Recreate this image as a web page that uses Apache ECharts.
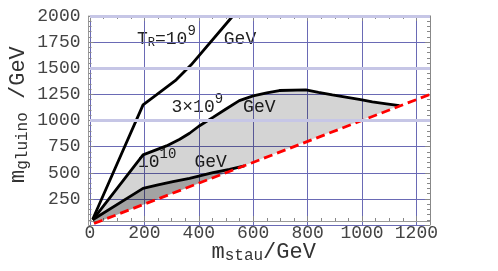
<!DOCTYPE html>
<html>
<head>
<meta charset="utf-8">
<script src="https://cdn.jsdelivr.net/npm/echarts@6/dist/echarts.min.js"></script>
<style>
html,body{margin:0;padding:0;background:#fff;}
#chart{width:498px;height:271px;}
</style>
</head>
<body>
<div id="chart"></div>
<script>
// ---- data (m_stau [GeV], m_gluino [GeV]) ----
const curveTR1e9 = [[10,55],[195,1150],[244,1245],[317,1389],[372,1533],[525,2000]];
const curveTR3e9 = [[10,50],[195,671],[281,757],[330,821],[366,878],[400,945],[452,1030],[500,1110],[549,1190],[600,1235],[650,1265],[696,1287],[794,1293],[840,1270],[891,1245],[995,1200],[1038,1178],[1090,1160],[1138,1143]];
const curveTR1e10 = [[10,50],[195,351],[250,385],[305,415],[366,447],[452,501],[513,533],[568,565]];
const boundaryLine = [[15,15],[1250,1250]];
const emphasisGridValues = [1000,1500,2000];
const xRange = [0,1250];
const yRange = [0,2000];

const MONO = 'Liberation Mono';
const chart = echarts.init(document.getElementById('chart'), null, {renderer:'canvas'});

function polygonSeries(curve, alpha, z){
  return {
    type:'custom', z:z, silent:true, animation:false,
    data:[[0,0]],
    renderItem:function(params, api){
      const pts = curve.concat([boundaryLine[0]]).map(p => api.coord(p));
      return {type:'polygon', shape:{points:pts}, style:{fill:'rgba(0,0,0,'+alpha+')'}};
    }
  };
}
function curveSeries(data){
  return {type:'line', data:data, showSymbol:false, symbol:'none', z:3, silent:true,
    lineStyle:{color:'#000', width:2.8}};
}
const tickStyle = {color:'#888', width:1};
const plain = v => String(v);

function txt(x, y, text, rich, rot){
  const el = {type:'text', x:x, y:y, silent:true,
    style:{text:text, rich:rich, align:'left', verticalAlign:'middle', textAlign:'left', textVerticalAlign:'middle'}};
  if (rot) el.rotation = rot;
  return el;
}
const col = '#222';
const annRich = {
  m:{fontFamily:MONO, fontSize:18, fill:col, color:col},
  s:{fontFamily:MONO, fontSize:12, fill:col, color:col, padding:[6,0,0,0]},
  p:{fontFamily:MONO, fontSize:14, fill:col, color:col, padding:[0,0,16,0]},
  g:{fontFamily:MONO, fontSize:18, fill:col, color:col, padding:[0,0,0,28]},
  g2:{fontFamily:MONO, fontSize:18, fill:col, color:col, padding:[0,0,0,20]},
  g3:{fontFamily:MONO, fontSize:18, fill:col, color:col, padding:[0,0,0,18]}
};
const nameRich = {
  m:{fontFamily:MONO, fontSize:22, fill:'#333', color:'#333'},
  s:{fontFamily:MONO, fontSize:16, fill:'#333', color:'#333', padding:[8,0,0,0]}
};

chart.setOption({
  animation:false,
  backgroundColor:'#fff',
  grid:{left:90, right:68, top:16, bottom:46, outerBoundsMode:'none', containLabel:false},
  xAxis:[
    {type:'value', min:xRange[0], max:xRange[1], interval:200, position:'bottom', offset:-4,
     axisLine:{show:true, onZero:false, lineStyle:{color:'#999', width:1}},
     axisTick:{show:true, inside:true, length:5, lineStyle:tickStyle},
     minorTick:{show:true, splitNumber:4, length:3, lineStyle:tickStyle},
     axisLabel:{showMaxLabel:false, formatter:plain, fontFamily:MONO, fontSize:18, color:'#444', margin:3},
     splitLine:{show:true, lineStyle:{color:'#6a6ab5', width:1}}},
    {type:'value', min:xRange[0], max:xRange[1], interval:200, position:'top',
     axisLine:{show:true, onZero:false, lineStyle:{color:'#aaa', width:1.5}},
     axisTick:{show:true, inside:true, length:5, lineStyle:tickStyle},
     minorTick:{show:true, splitNumber:4, length:3, lineStyle:tickStyle},
     axisLabel:{show:false}, splitLine:{show:false}}
  ],
  yAxis:[
    {type:'value', min:yRange[0], max:yRange[1], interval:250, position:'left', offset:1.5,
     axisLine:{show:true, onZero:false, lineStyle:{color:'#999', width:1}},
     axisTick:{show:true, inside:true, length:5, lineStyle:tickStyle},
     minorTick:{show:true, splitNumber:5, length:3, lineStyle:tickStyle},
     axisLabel:{showMinLabel:false, formatter:plain, fontFamily:MONO, fontSize:18, color:'#444', margin:8},
     splitLine:{show:true, lineStyle:{color:'#6a6ab5', width:1}}},
    {type:'value', min:yRange[0], max:yRange[1], interval:250, position:'right',
     axisLine:{show:true, onZero:false, lineStyle:{color:'#888', width:1}},
     axisTick:{show:true, inside:true, length:5, lineStyle:tickStyle},
     minorTick:{show:true, splitNumber:5, length:3, lineStyle:tickStyle},
     axisLabel:{show:false}, splitLine:{show:false}}
  ],
  series:[
    {type:'line', data:[], z:1, silent:true,
     markLine:{silent:true, symbol:'none', label:{show:false}, animation:false,
       lineStyle:{color:'#c6c6e6', width:3, type:'solid'},
       data:emphasisGridValues.map(v => ({yAxis:v}))}},
    polygonSeries(curveTR3e9, 0.17, 2),
    polygonSeries(curveTR1e10, 0.23, 2),
    curveSeries(curveTR1e9),
    curveSeries(curveTR3e9),
    curveSeries(curveTR1e10),
    {type:'line', data:boundaryLine, showSymbol:false, symbol:'none', z:4, silent:true,
     lineStyle:{color:'#ff0000', width:2.8, type:[9,5]}}
  ],
  graphic:[
    txt(137, 39.5, '{m|T}{s|R}{m|=10}{p|9}{g|GeV}', annRich),
    txt(171.5, 107.5, '{m|3×10}{p|9}{g2|GeV}', annRich),
    txt(138, 162.5, '{m|10}{p|10}{g3|GeV}', annRich),
    txt(211.5, 252, '{m|m}{s|stau}{m|/GeV}', nameRich),
    txt(18.5, 183, '{m|m}{s|gluino}{m| /GeV}', nameRich, Math.PI/2)
  ]
});
</script>
</body>
</html>
